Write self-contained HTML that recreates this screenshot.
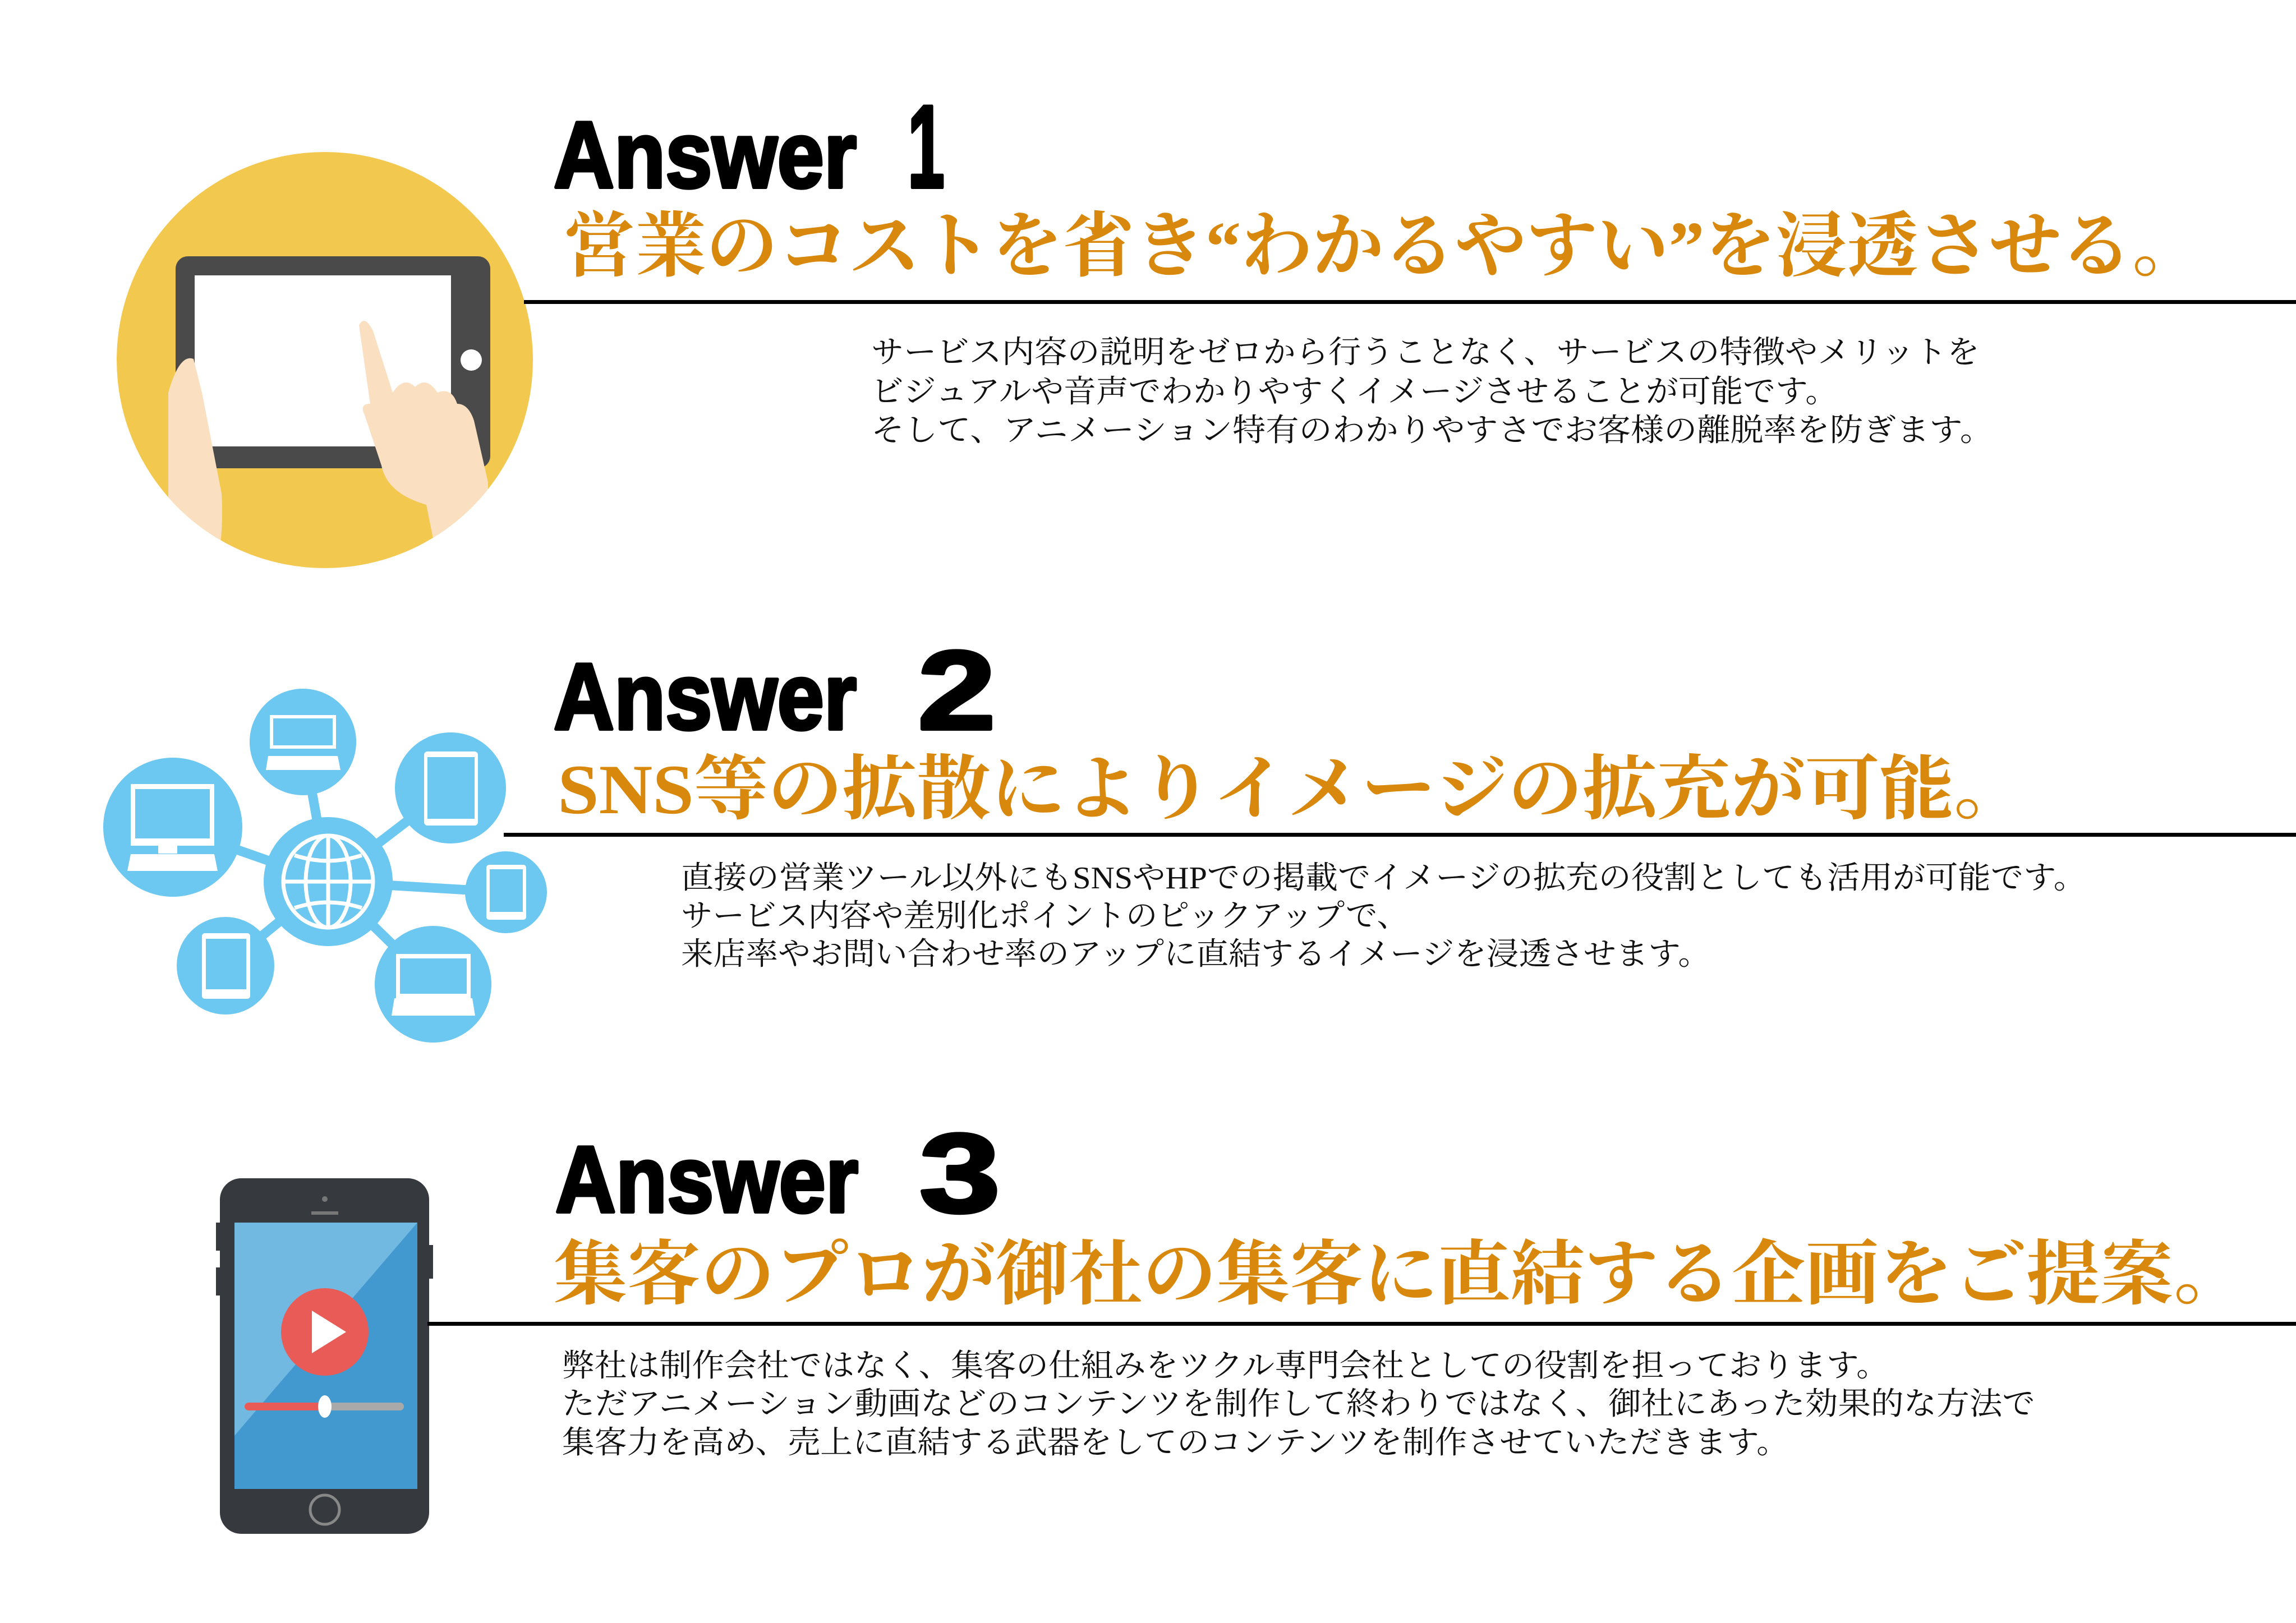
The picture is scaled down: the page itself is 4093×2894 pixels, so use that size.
<!DOCTYPE html>
<html><head><meta charset="utf-8"><style>
html,body{margin:0;padding:0;background:#fff;}
svg{display:block}
.ans{font-family:"Liberation Sans",sans-serif;font-weight:bold;fill:#000;stroke:#000;stroke-width:6;stroke-linejoin:round}
.ttl{font-family:"Liberation Serif","Noto Serif CJK JP",serif;fill:#D8880C;font-size:126px;font-weight:bold}
.bd{font-family:"Liberation Serif","Noto Serif CJK JP",serif;fill:#111;font-size:56px}
</style></head><body>
<svg width="4093" height="2894" viewBox="0 0 4093 2894" xmlns="http://www.w3.org/2000/svg">
<defs><clipPath id="c1"><circle cx="579" cy="642" r="371"/></clipPath></defs>
<circle cx="579" cy="642" r="371" fill="#F3C84F"/>
<g clip-path="url(#c1)">
<rect x="313" y="457" width="561" height="378" rx="22" fill="#4a4a4a"/>
<rect x="347" y="491" width="457" height="305" fill="#fff"/>
<circle cx="840" cy="642" r="19" fill="#fff"/>
<path d="M300 700 Q320 630 345 640 L360 700 L395 880 Q400 960 380 1050 L300 1050 Z" fill="#FADFC0"/>
<path d="M640 580 Q650 560 665 590 L700 700 Q720 670 740 690 Q760 670 780 700 Q805 690 815 720 Q835 720 845 750 L870 860 L870 1000 L780 1000 L760 900 Q690 880 680 830 L650 740 Q640 720 660 720 Z" fill="#FADFC0"/>
</g>
<text class="ans" x="987" y="334" font-size="168" textLength="540" lengthAdjust="spacingAndGlyphs">Answer</text>
<text class="ans" x="1618" y="334" font-size="210" textLength="66" lengthAdjust="spacingAndGlyphs">1</text>
<text class="ttl" x="1005" y="482" textLength="2923" lengthAdjust="spacingAndGlyphs">営業のコストを省き“わかるやすい”を浸透させる。</text>
<rect x="934" y="535" width="3159" height="7" fill="#000"/>
<text class="bd" x="1553" y="647" textLength="1976" lengthAdjust="spacingAndGlyphs">サービス内容の説明をゼロから行うことなく、サービスの特徴やメリットを</text>
<text class="bd" x="1553" y="717" textLength="1723" lengthAdjust="spacingAndGlyphs">ビジュアルや音声でわかりやすくイメージさせることが可能です。</text>
<text class="bd" x="1553" y="786" textLength="2000" lengthAdjust="spacingAndGlyphs">そして、アニメーション特有のわかりやすさでお客様の離脱率を防ぎます。</text>

<g stroke="#6CC8F0" stroke-width="17">
<line x1="585" y1="1572" x2="540" y2="1323"/>
<line x1="585" y1="1572" x2="308" y2="1475"/>
<line x1="585" y1="1572" x2="803" y2="1405"/>
<line x1="585" y1="1572" x2="902" y2="1591"/>
<line x1="585" y1="1572" x2="402" y2="1722"/>
<line x1="585" y1="1572" x2="772" y2="1755"/>
</g>
<g fill="#6CC8F0">
<circle cx="585" cy="1572" r="115"/>
<circle cx="540" cy="1323" r="95"/>
<circle cx="308" cy="1475" r="124"/>
<circle cx="803" cy="1405" r="99"/>
<circle cx="902" cy="1591" r="73"/>
<circle cx="402" cy="1722" r="87"/>
<circle cx="772" cy="1755" r="104"/>
</g>
<g fill="none" stroke="#fff" stroke-width="7">
<ellipse cx="585" cy="1572" rx="80" ry="82"/>
<ellipse cx="585" cy="1572" rx="40" ry="82"/>
<line x1="585" y1="1490" x2="585" y2="1654"/>
<line x1="505" y1="1572" x2="665" y2="1572"/>
<path d="M525 1525 Q585 1545 645 1525"/>
<path d="M525 1619 Q585 1599 645 1619"/>
</g>
<g fill="#fff">
<rect x="481" y="1275" width="118" height="60" /><rect x="487" y="1281" width="106" height="48" fill="#6CC8F0"/>
<path d="M478 1348 L602 1348 L607 1373 L474 1373 Z"/>
<rect x="233" y="1398" width="149" height="110"/><rect x="241" y="1407" width="133" height="88" fill="#6CC8F0"/>
<rect x="282" y="1508" width="34" height="14"/>
<path d="M233 1523 L382 1523 L388 1553 L227 1553 Z"/>
<rect x="756" y="1340" width="96" height="132" rx="6"/><rect x="762" y="1350" width="84" height="110" fill="#6CC8F0"/>
<rect x="867" y="1542" width="71" height="98" rx="5"/><rect x="873" y="1550" width="59" height="76" fill="#6CC8F0"/>
<rect x="360" y="1664" width="86" height="117" rx="5"/><rect x="367" y="1674" width="72" height="90" fill="#6CC8F0"/>
<rect x="706" y="1701" width="133" height="80"/><rect x="713" y="1709" width="119" height="63" fill="#6CC8F0"/>
<path d="M703 1780 L842 1780 L847 1811 L698 1811 Z"/>
</g>
<text class="ans" x="987" y="1300" font-size="168" textLength="540" lengthAdjust="spacingAndGlyphs">Answer</text>
<text class="ans" x="1636" y="1300" font-size="200" textLength="139" lengthAdjust="spacingAndGlyphs">2</text>
<text class="ttl" x="994" y="1450" textLength="2621" lengthAdjust="spacingAndGlyphs">SNS等の拡散によりイメージの拡充が可能。</text>
<rect x="898" y="1485" width="3195" height="7" fill="#000"/>
<text class="bd" x="1214" y="1584" textLength="2505" lengthAdjust="spacingAndGlyphs">直接の営業ツール以外にもSNSやHPでの掲載でイメージの拡充の役割としても活用が可能です。</text>
<text class="bd" x="1214" y="1652" textLength="1297" lengthAdjust="spacingAndGlyphs">サービス内容や差別化ポイントのピックアップで、</text>
<text class="bd" x="1214" y="1720" textLength="1835" lengthAdjust="spacingAndGlyphs">来店率やお問い合わせ率のアップに直結するイメージを浸透させます。</text>

<rect x="392" y="2101" width="373" height="634" rx="38" fill="#36393D"/>
<rect x="385" y="2180" width="10" height="50" fill="#36393D"/><rect x="385" y="2260" width="10" height="50" fill="#36393D"/><rect x="762" y="2220" width="10" height="60" fill="#36393D"/>
<rect x="418" y="2180" width="326" height="475" fill="#4199D0"/>
<path d="M418 2180 L744 2180 L418 2560 Z" fill="#72B9E2"/>
<circle cx="579" cy="2138" r="5" fill="#777"/><rect x="555" y="2160" width="48" height="6" fill="#777"/>
<circle cx="579" cy="2692" r="26" fill="none" stroke="#888" stroke-width="5"/>
<circle cx="579" cy="2375" r="78" fill="#E85B57"/>
<path d="M556 2337 L556 2413 L617 2375 Z" fill="#fff"/>
<rect x="436" y="2501" width="284" height="14" rx="7" fill="#A9A9A9"/>
<rect x="436" y="2501" width="143" height="14" rx="7" fill="#E85B57"/>
<ellipse cx="579" cy="2508" rx="12" ry="20" fill="#fff"/>
<text class="ans" x="990" y="2161" font-size="168" textLength="540" lengthAdjust="spacingAndGlyphs">Answer</text>
<text class="ans" x="1639" y="2161" font-size="200" textLength="144" lengthAdjust="spacingAndGlyphs">3</text>
<text class="ttl" x="987" y="2315" textLength="3019" lengthAdjust="spacingAndGlyphs">集客のプロが御社の集客に直結する企画をご提案。</text>
<rect x="762" y="2357" width="3331" height="7" fill="#000"/>
<text class="bd" x="1002" y="2454" textLength="2365" lengthAdjust="spacingAndGlyphs">弊社は制作会社ではなく、集客の仕組みをツクル専門会社としての役割を担っております。</text>
<text class="bd" x="1002" y="2522" textLength="2626" lengthAdjust="spacingAndGlyphs">ただアニメーション動画などのコンテンツを制作して終わりではなく、御社にあった効果的な方法で</text>
<text class="bd" x="1002" y="2591" textLength="2187" lengthAdjust="spacingAndGlyphs">集客力を高め、売上に直結する武器をしてのコンテンツを制作させていただきます。</text>
</svg>
</body></html>
